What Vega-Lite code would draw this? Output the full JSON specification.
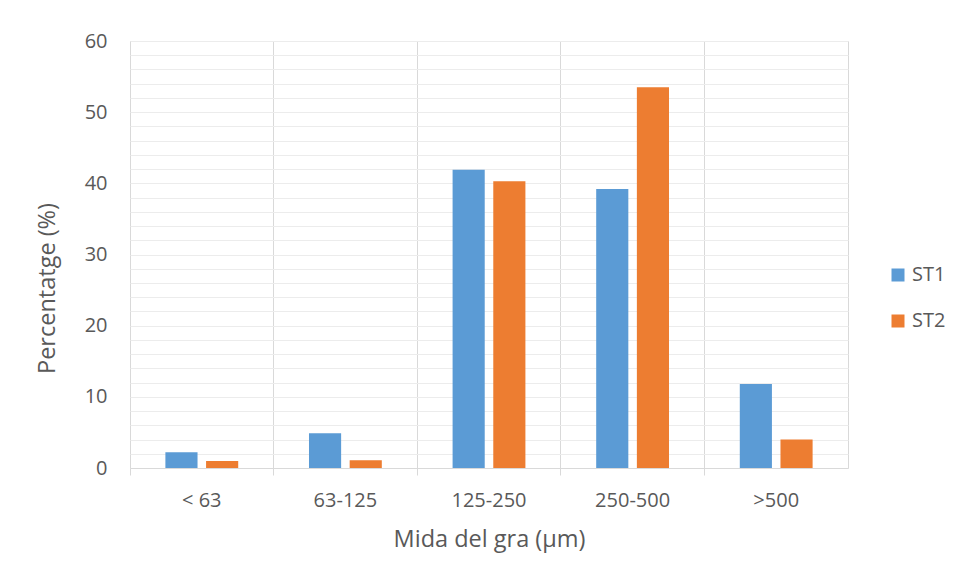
{
  "$schema": "https://vega.github.io/schema/vega-lite/v6.json",
  "autosize": "none",
  "width": 718,
  "height": 427,
  "padding": {"left": 130, "top": 41, "right": 109, "bottom": 112},
  "background": "white",
  "data": {
    "values": [
      {"mida": "< 63", "serie": "ST1", "pct": 2.2},
      {"mida": "< 63", "serie": "ST2", "pct": 1.0},
      {"mida": "63-125", "serie": "ST1", "pct": 4.9},
      {"mida": "63-125", "serie": "ST2", "pct": 1.1},
      {"mida": "125-250", "serie": "ST1", "pct": 41.9},
      {"mida": "125-250", "serie": "ST2", "pct": 40.3},
      {"mida": "250-500", "serie": "ST1", "pct": 39.2},
      {"mida": "250-500", "serie": "ST2", "pct": 53.5},
      {"mida": ">500", "serie": "ST1", "pct": 11.8},
      {"mida": ">500", "serie": "ST2", "pct": 4.0}
    ]
  },
  "mark": {"type": "bar"},
  "encoding": {
    "x": {
      "field": "mida",
      "type": "nominal",
      "sort": ["< 63", "63-125", "125-250", "250-500", ">500"],
      "scale": {"paddingInner": 0, "paddingOuter": 0},
      "axis": {
        "title": "Mida del gra (µm)",
        "labelAngle": 0,
        "bandPosition": 0,
        "grid": true,
        "gridColor": "#d9d9d9",
        "gridWidth": 1,
        "ticks": true,
        "tickSize": 7,
        "tickColor": "#d9d9d9",
        "domainColor": "#d9d9d9",
        "domainWidth": 1,
        "labelPadding": 15,
        "labelFontSize": 20,
        "labelColor": "#595959",
        "labelFont": "Open Sans",
        "titleFont": "Open Sans",
        "titleFontSize": 23.5,
        "titleFontWeight": "normal",
        "titleColor": "#595959",
        "titlePadding": 17
      }
    },
    "xOffset": {
      "field": "serie",
      "type": "nominal",
      "scale": {"paddingInner": 0.21, "paddingOuter": 0.87}
    },
    "y": {
      "field": "pct",
      "type": "quantitative",
      "scale": {"domain": [0, 60], "nice": false},
      "axis": {
        "title": "Percentatge (%)",
        "values": [0, 2, 4, 6, 8, 10, 12, 14, 16, 18, 20, 22, 24, 26, 28, 30, 32, 34, 36, 38, 40, 42, 44, 46, 48, 50, 52, 54, 56, 58, 60],
        "labelExpr": "datum.value % 10 === 0 ? datum.label : ''",
        "grid": true,
        "gridColor": "#ececec",
        "gridWidth": 1,
        "domain": false,
        "ticks": false,
        "labelPadding": 23,
        "labelFontSize": 20,
        "labelColor": "#595959",
        "labelFont": "Open Sans",
        "titleFont": "Open Sans",
        "titleFontSize": 23.5,
        "titleFontWeight": "normal",
        "titleColor": "#595959",
        "titleX": -83,
        "titleY": 247,
        "titleAngle": -90,
        "titleAlign": "center",
        "titleBaseline": "middle"
      }
    },
    "color": {
      "field": "serie",
      "type": "nominal",
      "scale": {"domain": ["ST1", "ST2"], "range": ["#5b9bd5", "#ed7d31"]},
      "legend": {
        "title": null,
        "orient": "none",
        "legendX": 758,
        "legendY": 224,
        "symbolType": "square",
        "symbolSize": 169,
        "symbolStrokeWidth": 0,
        "labelFontSize": 20,
        "labelFont": "Open Sans",
        "labelColor": "#595959",
        "labelOffset": 4,
        "rowPadding": 26
      }
    }
  },
  "config": {
    "view": {"stroke": "#d9d9d9", "strokeWidth": 1}
  }
}
